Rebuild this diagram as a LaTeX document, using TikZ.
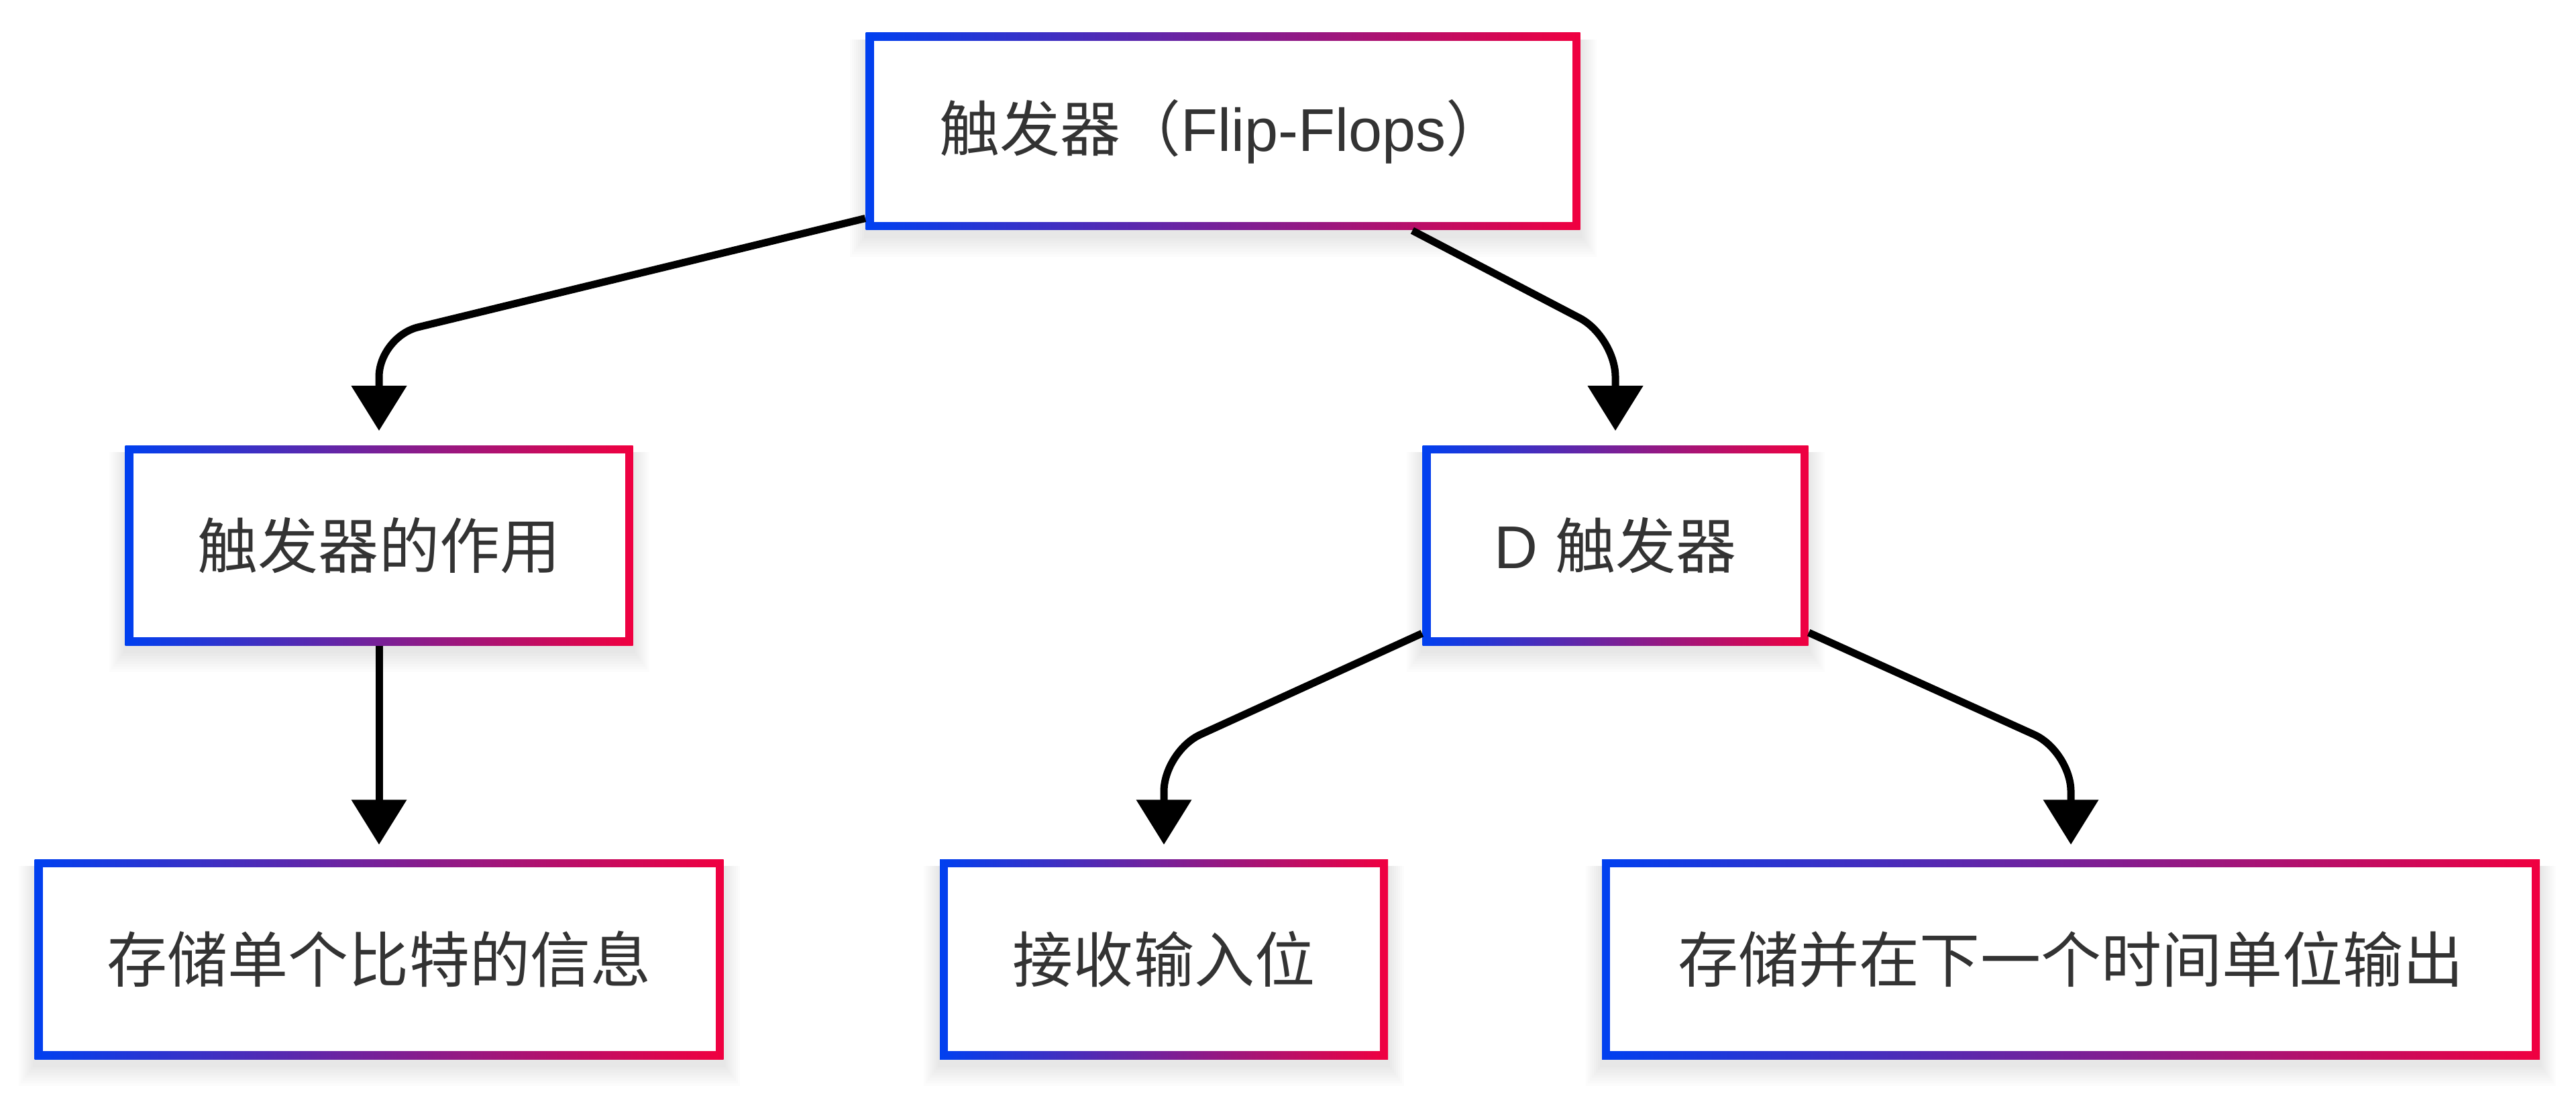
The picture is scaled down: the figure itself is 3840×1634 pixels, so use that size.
\documentclass[tikz,border=0pt]{standalone}
\usepackage{fontspec}
\setmainfont{Liberation Sans}
\newfontfamily\cjk{Noto Sans CJK SC}
\usetikzlibrary{arrows.meta}
\definecolor{gblue}{RGB}{0,64,240}
\definecolor{gred}{RGB}{240,0,64}
\definecolor{txt}{RGB}{51,51,51}
\tikzset{
 lbl/.style={inner sep=0pt, font=\fontsize{25.6pt}{30pt}\selectfont, text=txt},
 conn/.style={line width=0.11cm, rounded corners=0.6cm, -{Triangle[width=0.8cm,length=0.67cm]}, shorten >=0.21cm},
}
\newcommand\gbox[6]{%
  \foreach \k in {1,...,8} {\fill[black, opacity=0.012] (#2-#4/2-\k*3, #3-#5/2+10) rectangle (#2+#4/2+\k*3, #3+#5/2+8+\k*4);}
  \shade[left color=gblue, right color=gred] (#2-#4/2,#3-#5/2) rectangle (#2+#4/2,#3+#5/2);
  \fill[white] (#2-#4/2+12,#3-#5/2+12) rectangle (#2+#4/2-12,#3+#5/2-12);
  \node[lbl, minimum width={(#4)*0.01cm}, minimum height={(#5)*0.01cm}] (#1) at (#2,#3) {#6};
}
\begin{document}
\begin{tikzpicture}[x=0.01cm, y=-0.01cm]
\useasboundingbox[fill=white] (0,0) rectangle (3840,1634);
\gbox{top}{1823}{196}{1065}{294}{{\cjk 触发器（}Flip-Flops{\cjk ）}}
\gbox{ml}{565}{813}{757}{298}{\cjk 触发器的作用}
\gbox{mr}{2408}{813}{575}{298}{D {\cjk 触发器}}
\gbox{bl}{565}{1430}{1027}{298}{\cjk 存储单个比特的信息}
\gbox{bm}{1735}{1430}{668}{298}{\cjk 接收输入位}
\gbox{br}{3087}{1430}{1398}{298}{\cjk 存储并在下一个时间单位输出}
\coordinate (c1) at (565,502);
\coordinate (c2) at (2408,502);
\coordinate (c3) at (1735,1120);
\coordinate (c4) at (3087,1120);
\draw[conn] (top) -- (c1) -- (ml);
\draw[conn] (top) -- (c2) -- (mr);
\draw[conn] (ml) -- (bl);
\draw[conn] (mr) -- (c3) -- (bm);
\draw[conn] (mr) -- (c4) -- (br);
\end{tikzpicture}
\end{document}
